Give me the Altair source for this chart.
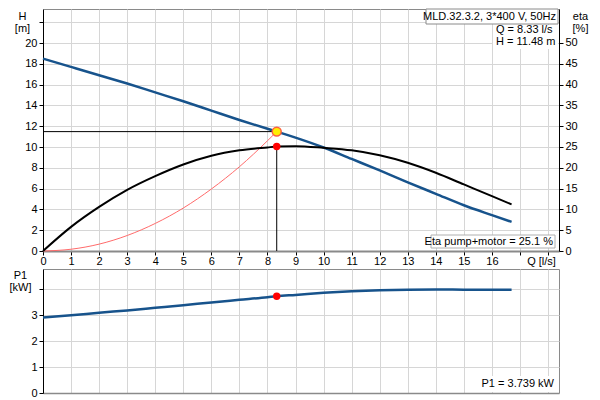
import altair as alt
import pandas as pd

# ---- data ----
Q_H = [0, 1, 2, 3, 4, 5, 6, 7, 8, 8.33, 9, 10, 11, 12, 13, 14, 15, 16, 16.7]
H_vals = [18.5, 17.7, 16.9, 16.1, 15.25, 14.4, 13.5, 12.6, 11.75, 11.48, 10.9, 9.95, 8.85, 7.75, 6.6, 5.5, 4.4, 3.45, 2.8]

Q_eta = [0, 1, 2, 3, 4, 5, 6, 7, 8, 8.33, 9, 10, 11, 12, 13, 14, 15, 16, 16.7]
eta_vals = [0, 5.8, 10.6, 14.7, 18.0, 20.8, 22.9, 24.2, 24.9, 25.1, 25.2, 24.8, 24.2, 23.0, 21.2, 18.8, 16.0, 13.2, 11.2]

Q_sys = [0, 1, 2, 3, 4, 5, 6, 7, 8, 8.33]
H_sys = [0, 0.17, 0.66, 1.49, 2.65, 4.13, 5.96, 8.1, 10.6, 11.48]

Q_P1 = [0, 1, 2, 3, 4, 5, 6, 7, 8, 8.33, 9, 10, 11, 12, 13, 14, 15, 16, 16.7]
P1_vals = [2.92, 3.0, 3.1, 3.19, 3.29, 3.39, 3.5, 3.6, 3.7, 3.739, 3.79, 3.87, 3.93, 3.97, 3.99, 4.0, 3.99, 3.985, 3.99]

Q_op = 8.33
H_op = 11.48
eta_op = 25.1
P1_op = 3.739

x_ticks = list(range(0, 19))
H_ticks = list(range(0, 23, 2))
eta_ticks = list(range(0, 51, 5))
P1_ticks = [0, 1, 2, 3, 4]

title_text = "MLD.32.3.2, 3*400 V, 50Hz"
q_text = "Q = 8.33 l/s"
h_text = "H = 11.48 m"
eta_text = "Eta pump+motor = 25.1 %"
p1_text = "P1 = 3.739 kW"

# ---- styling ----
FONT = "Liberation Sans"
BLUE = "#17538c"
GRID = "#d6d6d6"
W = 516
H1 = 242
H2 = 124

x_scale = alt.Scale(domain=[0, 18.39], nice=False, zero=False)
h_scale = alt.Scale(domain=[0, 23.27], nice=False)
eta_scale = alt.Scale(domain=[0, 58.17], nice=False)
p_scale = alt.Scale(domain=[0, 4.79], nice=False)

x_axis_top = alt.Axis(values=x_ticks, labelExpr="datum.value <= 16 ? datum.label : ''",
                      grid=True, gridColor=GRID, domainColor="#8a8a8a", domainWidth=2,
                      tickColor="#000", tickSize=4, labelPadding=0, labelFlush=False,
                      title="Q [l/s]", titleX=498, titleY=4, titleBaseline="top",
                      titleAlign="center")
h_axis = alt.Axis(values=H_ticks, labelExpr="datum.value <= 20 ? datum.label : ''",
                  grid=True, gridColor=GRID, domainColor="#000", tickColor="#000",
                  tickSize=4, labelPadding=2, title=["H", "[m]"], titleAngle=0,
                  titleX=-21, titleY=1, titleBaseline="top", titleAlign="center",
                  titleLineHeight=12)
eta_axis = alt.Axis(values=eta_ticks, orient="right", grid=False, domainColor="#000",
                    tickColor="#000", tickSize=4, labelPadding=2,
                    title=["eta", "[%]"], titleAngle=0, titleX=21, titleY=1,
                    titleBaseline="top", titleAlign="center", titleLineHeight=12)
x_axis_bot = alt.Axis(values=x_ticks, labels=False, ticks=False, grid=True, gridColor=GRID,
                      domainColor="#8a8a8a", domainWidth=1.5, title=None)
p_axis = alt.Axis(values=P1_ticks, labelExpr="datum.value < 4 ? datum.label : ''",
                  grid=True, gridColor=GRID, domainColor="#000", tickColor="#000",
                  tickSize=4, labelPadding=2, title=["P1", "[kW]"], titleAngle=0,
                  titleX=-23, titleY=0, titleBaseline="top", titleAlign="center",
                  titleLineHeight=12)

xT = alt.X("Q:Q", scale=x_scale, axis=x_axis_top)
yH = alt.Y("v:Q", scale=h_scale, axis=h_axis)
yE = alt.Y("v:Q", scale=eta_scale, axis=eta_axis)
xB = alt.X("Q:Q", scale=x_scale, axis=x_axis_bot)
yP = alt.Y("v:Q", scale=p_scale, axis=p_axis)

df_H = pd.DataFrame({"Q": Q_H, "v": H_vals})
df_eta = pd.DataFrame({"Q": Q_eta, "v": eta_vals})
df_sys = pd.DataFrame({"Q": Q_sys, "v": H_sys})
df_P1 = pd.DataFrame({"Q": Q_P1, "v": P1_vals})
df_opH = pd.DataFrame({"Q": [Q_op], "Q0": [0.0], "v": [H_op]})
df_opE = pd.DataFrame({"Q": [Q_op], "v": [eta_op], "v0": [0.0]})
df_opP = pd.DataFrame({"Q": [Q_op], "v": [P1_op]})
one = pd.DataFrame({"a": [1]})

sys_line = alt.Chart(df_sys).mark_line(color="#ff6b6b", strokeWidth=1, interpolate="monotone").encode(x=xT, y=yH)
h_line = alt.Chart(df_H).mark_line(color=BLUE, strokeWidth=2.5, interpolate="monotone").encode(x=xT, y=yH)
h_rule = alt.Chart(df_opH).mark_rule(color="#000", strokeWidth=1).encode(x=alt.X("Q0:Q", scale=x_scale, axis=x_axis_top), x2="Q:Q", y=yH)
op_pt = alt.Chart(df_opH).mark_point(filled=True, fill="#ffee00", stroke="#ff6040", strokeWidth=1.5, size=80, opacity=1).encode(x=xT, y=yH)

# annotation boxes (pixel positions in the plot area)
box1 = alt.Chart(one).mark_rect(fill="white", stroke="#8a8a8a", strokeWidth=1).encode(
    x=alt.value(383), x2=alt.value(515), y=alt.value(0), y2=alt.value(15))
txt1 = alt.Chart(one).mark_text(align="right", baseline="middle", font=FONT, fontSize=11, color="#000").encode(
    x=alt.value(513), y=alt.value(8), text=alt.value(title_text))
box2 = alt.Chart(one).mark_rect(fill="white").encode(
    x=alt.value(450), x2=alt.value(515), y=alt.value(16), y2=alt.value(40))
txt2 = alt.Chart(one).mark_text(align="left", baseline="middle", font=FONT, fontSize=11, color="#000").encode(
    x=alt.value(453), y=alt.value(21), text=alt.value(q_text))
txt3 = alt.Chart(one).mark_text(align="left", baseline="middle", font=FONT, fontSize=11, color="#000").encode(
    x=alt.value(453), y=alt.value(33), text=alt.value(h_text))
box3 = alt.Chart(one).mark_rect(fill="white", stroke="#b0b0b0", strokeWidth=1).encode(
    x=alt.value(388), x2=alt.value(512), y=alt.value(226), y2=alt.value(239))
txt4 = alt.Chart(one).mark_text(align="right", baseline="middle", font=FONT, fontSize=11, color="#000").encode(
    x=alt.value(510), y=alt.value(233), text=alt.value(eta_text))

eta_line = alt.Chart(df_eta).mark_line(color="#000", strokeWidth=2, interpolate="monotone").encode(x=xT, y=yE)
v_rule = alt.Chart(df_opE).mark_rule(color="#000", strokeWidth=1).encode(x=xT, y=yE, y2="v0:Q")
eta_pt = alt.Chart(df_opE).mark_circle(color="#ff0000", size=55, opacity=1).encode(x=xT, y=yE)

left_group = alt.layer(sys_line, h_line, h_rule, op_pt, box1, txt1, box2, txt2, txt3, box3, txt4)
right_group = alt.layer(eta_line, v_rule, eta_pt)
top = alt.layer(left_group, right_group).resolve_scale(y="independent").properties(width=W, height=H1)

p_line = alt.Chart(df_P1).mark_line(color=BLUE, strokeWidth=2.5, interpolate="monotone").encode(x=xB, y=yP)
p_pt = alt.Chart(df_opP).mark_circle(color="#ff0000", size=55, opacity=1).encode(x=xB, y=yP)
box4 = alt.Chart(one).mark_rect(fill="white").encode(
    x=alt.value(438), x2=alt.value(514), y=alt.value(107), y2=alt.value(123))
txt5 = alt.Chart(one).mark_text(align="right", baseline="middle", font=FONT, fontSize=11, color="#000").encode(
    x=alt.value(511), y=alt.value(115), text=alt.value(p1_text))
bottom = alt.layer(p_line, p_pt, box4, txt5).properties(width=W, height=H2)

chart = alt.vconcat(top, bottom, spacing=1).properties(
    padding={"left": 0, "top": 0, "right": 0, "bottom": 0}
).configure_view(stroke="#8a8a8a", strokeWidth=1).configure_axis(
    labelFont=FONT, labelFontSize=11, labelColor="#000",
    titleFont=FONT, titleFontSize=11, titleFontWeight="normal", titleColor="#000"
).configure_text(font=FONT)

chart.save("out.html", embed_options={"renderer": "svg", "actions": False})
